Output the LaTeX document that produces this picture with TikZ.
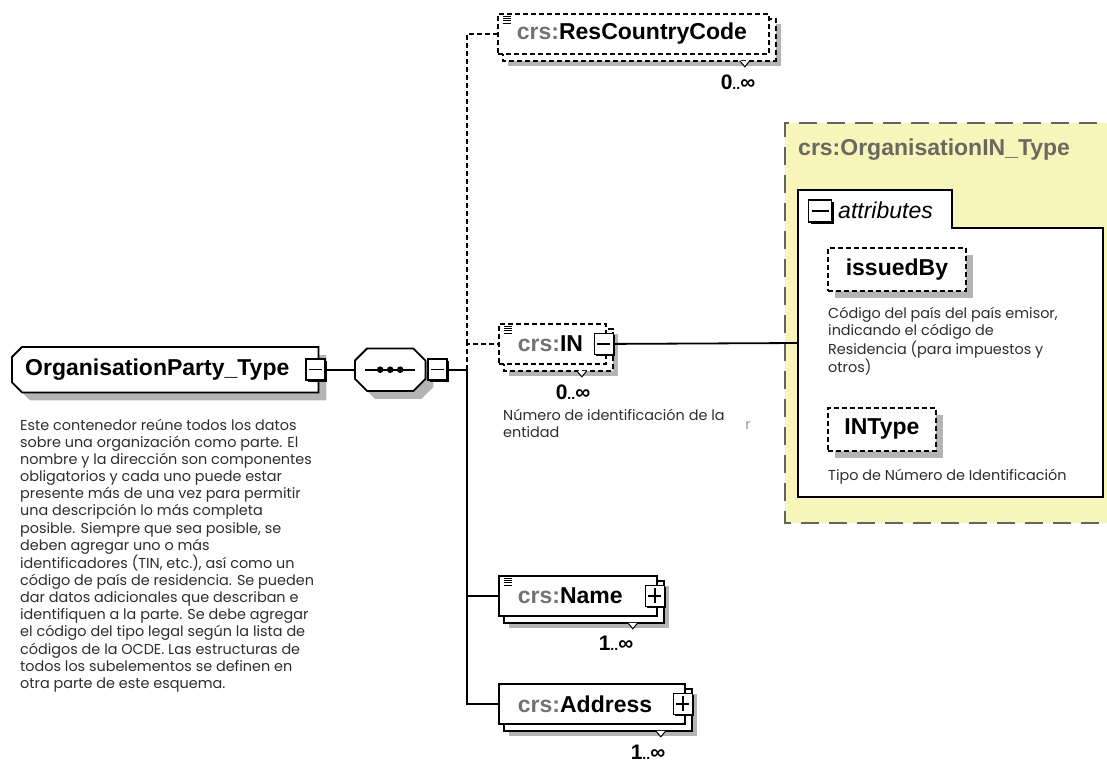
\documentclass[tikz,border=0pt]{standalone}
\usepackage{fontspec}
\setmainfont{Liberation Sans}
\newfontfamily\descfont{Poppins}
\usetikzlibrary{positioning,backgrounds,shadows}

\definecolor{shadegray}{RGB}{180,180,180}
\definecolor{panelfill}{RGB}{248,245,186}
\definecolor{paneldash}{RGB}{100,100,95}
\definecolor{prefixgray}{RGB}{115,115,115}
\definecolor{titlegray}{RGB}{105,105,95}
\definecolor{desctext}{RGB}{45,45,45}
\definecolor{straygray}{RGB}{140,155,170}

\newcommand{\lab}{\fontsize{23}{26}\selectfont\bfseries}
\newcommand{\dsc}{\descfont\fontsize{14.4}{17.1}\selectfont}
\newcommand{\crs}[1]{\textcolor{prefixgray}{crs:}#1}
\newcommand{\occ}[1]{#1{\fontsize{14}{14}\selectfont..}∞}
% second copy and shadow behind a repeated element
\newcommand{\stackback}[2][]{%
  \begin{scope}[on background layer]
    \fill[shadegray] ([shift={(11,11)}]#2.north west) rectangle ([shift={(11,11)}]#2.south east);
    \draw[elline,#1,fill=white] ([shift={(6,6)}]#2.north west) rectangle ([shift={(6,6)}]#2.south east);
    \draw[line width=1pt,fill=white] ([shift={(-30,6)}]#2.south east) -- ++(5,6) -- ++(5,-6);
  \end{scope}}
\newcommand{\seqicon}[1]{%
  \foreach \k in {0,1,2,3} \draw[line width=0.8pt] ([shift={(6,3+2.4*\k)}]#1.north west) -- ++(8,0);}
% outlines with cut corners
\newcommand{\leftcut}[1]{([xshift=10pt]#1.north west) -- (#1.north east) -- (#1.south east)
  -- ([xshift=10pt]#1.south west) -- ([yshift=10pt]#1.south west) -- ([yshift=-10pt]#1.north west) -- cycle}
\newcommand{\allcut}[1]{([xshift=12pt]#1.north west) -- ([xshift=-12pt]#1.north east)
  -- ([yshift=-12pt]#1.north east) -- ([yshift=12pt]#1.south east) -- ([xshift=-12pt]#1.south east)
  -- ([xshift=12pt]#1.south west) -- ([yshift=12pt]#1.south west) -- ([yshift=-12pt]#1.north west) -- cycle}

\begin{document}
\begin{tikzpicture}[x=1pt,y=-1pt,
   every node/.style={inner sep=0pt},
   elline/.style={line width=1.8pt},
   optdash/.style={dash pattern=on 5pt off 3pt},
   elbox/.style={elline, draw, fill=white, anchor=north west, minimum height=40pt,
      text width=#1, align=left, inner xsep=19pt, inner ysep=0pt, font=\lab},
   optbox/.style={elbox=#1, optdash},
   ctrlbox/.style={draw, fill=white, line width=1.6pt, minimum width=19pt, minimum height=21pt,
      drop shadow={shadow xshift=2pt, shadow yshift=-2pt, fill=black, opacity=1}},
   minusbox/.style={ctrlbox, path picture={\draw[line width=1.4pt]
      ([xshift=3pt]path picture bounding box.west) -- ([xshift=-3pt]path picture bounding box.east);}},
   plusbox/.style={ctrlbox, path picture={\draw[line width=1.4pt]
      ([xshift=3pt]path picture bounding box.west) -- ([xshift=-3pt]path picture bounding box.east)
      ([yshift=-3pt]path picture bounding box.north) -- ([yshift=3pt]path picture bounding box.south);}},
   rootbox/.style={anchor=north west, minimum width=306pt, minimum height=45pt,
      text width=280pt, align=left, font=\lab},
   compbox/.style={anchor=north west, minimum width=70pt, minimum height=42pt},
   attr/.style={elline, draw, fill=white, optdash, anchor=north west, minimum height=43pt, font=\lab,
      drop shadow={shadow xshift=7pt, shadow yshift=-7pt, fill=shadegray, opacity=1}},
   mult/.style={font=\fontsize{21}{21}\selectfont\bfseries},
   desc/.style={anchor=north west, align=left, font=\dsc, text=desctext}]
   \useasboundingbox (0,0) rectangle (1107,764);
   \clip (0,0) rectangle (1107,764);

   % the complex type panel
   \fill[panelfill] (785,123) rectangle (1125,523);
   \draw[paneldash, line width=1.6pt, dash pattern=on 18pt off 10pt]
     (1125,123) -- (785,123) -- (785,523) -- (1125,523);
   \node[anchor=west, font=\lab, text=titlegray] (ntype) at (798,150) {crs:OrganisationIN\_Type};
   \draw[line width=1.6pt, fill=white]
     (798,497) -- (798,190) -- (952,190) -- (952,228) -- (1103,228) -- (1103,497) -- cycle;
   \coordinate (inbox) at (798,343);
   \node[minusbox, minimum width=23pt, minimum height=22pt] (attm) at (820,211) {};
   \node[anchor=west, font=\fontsize{23}{26}\selectfont\itshape] (attl) at (838,210) {attributes};
   \node[attr, minimum width=138pt] (issued) at (827,247) {issuedBy};
   \node[desc] (issuedd) at (828,307) {Código del país del país emisor,\\indicando el código de\\Residencia (para impuestos y\\otros)};
   \node[attr, minimum width=108pt] (intype) at (827,407) {INType};
   \node[desc] (intyped) at (828,469) {Tipo de Número de Identificación};

   % root and sequence
   \node[rootbox] (org) at (12,347) {OrganisationParty\_Type};
   \node[compbox] (seq) at (355,348.5) {};
   \begin{scope}[on background layer]
     \begin{scope}[transform canvas={shift={(8,8)}}]
       \fill[shadegray] \leftcut{org};
       \fill[shadegray] \allcut{seq};
     \end{scope}
     \draw[elline, fill=white] \leftcut{org};
     \draw[elline, fill=white] \allcut{seq};
   \end{scope}
   \node[minusbox] (orgm) at ([xshift=-3pt]org.east) {};
   \draw[line width=1.6pt] ([xshift=10pt]seq.west) -- ([xshift=-10pt]seq.east);
   \foreach \dx in {-10,0,10} \fill ([xshift=\dx pt]seq.center) circle (3.3pt);
   \node[minusbox, right=2pt of seq] (seqm) {};
   \draw[elline] (orgm.east) -- (seq.west);
   \draw[elline] (seqm.east) -- ++(19,0) coordinate (jn);
   \node[desc] (orgd) at (20,419) {Este contenedor reúne todos los datos\\sobre una organización como parte. El\\nombre y la dirección son componentes\\obligatorios y cada uno puede estar\\presente más de una vez para permitir\\una descripción lo más completa\\posible. Siempre que sea posible, se\\deben agregar uno o más\\identificadores (TIN, etc.), así como un\\código de país de residencia. Se pueden\\dar datos adicionales que describan e\\identifiquen a la parte. Se debe agregar\\el código del tipo legal según la lista de\\códigos de la OCDE. Las estructuras de\\todos los subelementos se definen en\\otra parte de este esquema.};

   % child elements
   \node[optbox=233pt] (rcc) at (497,13) {\crs{ResCountryCode}};
   \stackback[optdash]{rcc}
   \seqicon{rcc}
   \node[mult] (rccn) at (738,82) {\occ{0}};

   \node[optbox=69pt] (in) at (498,323) {\crs{IN}};
   \stackback[optdash]{in}
   \seqicon{in}
   \node[minusbox] (inm) at ([xshift=-3pt]in.east) {};
   \node[mult] (inn) at (573,392) {\occ{0}};
   \node[desc] (ind) at (503,409) {Número de identificación de la\\entidad};
   \node[text=straygray, font=\dsc] (stray) at (748,425) {r};

   \node[elbox=120pt] (name) at (498,575) {\crs{Name}};
   \stackback{name}
   \seqicon{name}
   \node[plusbox] (namep) at ([xshift=-3pt]name.east) {};
   \node[mult] (namen) at (616,643) {\occ{1}};

   \node[elbox=148pt] (addr) at (498,683) {\crs{Address}};
   \stackback{addr}
   \node[plusbox] (addrp) at ([xshift=-3pt]addr.east) {};
   \node[mult] (addrn) at (648,752) {\occ{1}};

   % connectors
   \coordinate (jin) at (jn |- in.west);
   \draw[elline, optdash] (jn) -- (jin) -- (in.west);
   \draw[elline, optdash] (jin) |- (rcc.west);
   \draw[elline] (jn) |- (name.west);
   \draw[elline] (jn) |- (addr.west);
   \draw[elline] (inm.east) -- (inbox);
\end{tikzpicture}
\end{document}
